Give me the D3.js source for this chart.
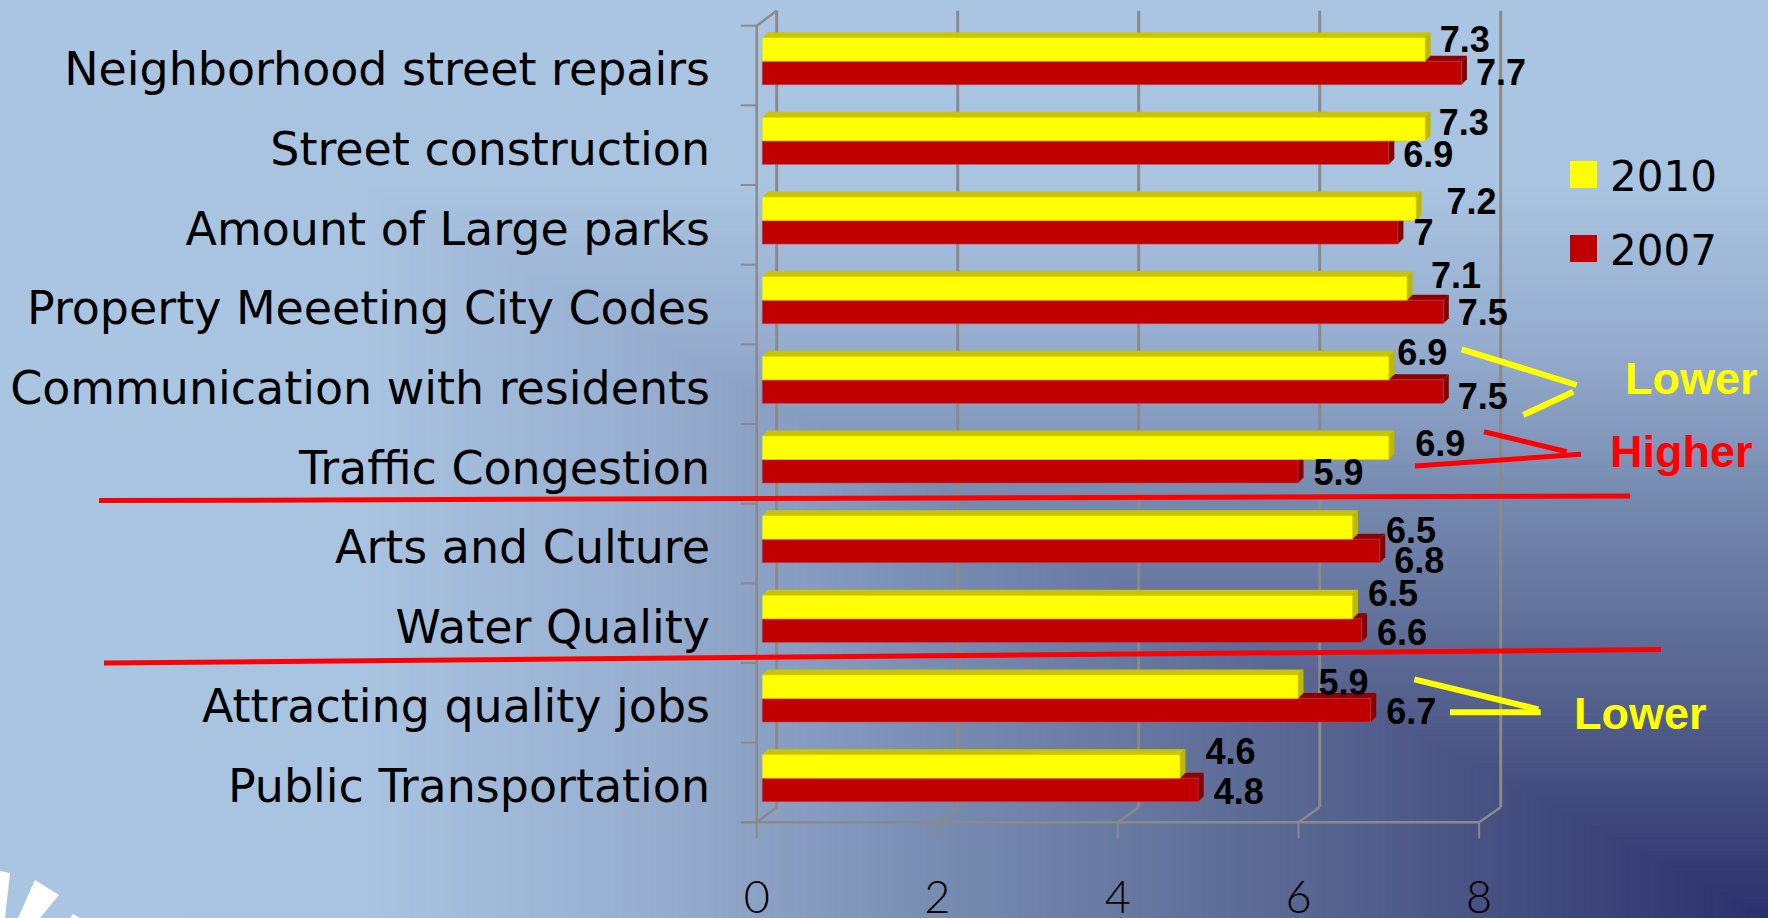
<!DOCTYPE html>
<html>
<head>
<meta charset="utf-8">
<script src="https://cdn.jsdelivr.net/npm/d3@7/dist/d3.min.js"></script>
<style>
  html, body { margin: 0; padding: 0; background: #a9c4e1; overflow: hidden; }
  svg { display: block; }
</style>
</head>
<body>
<svg id="chart" width="1768" height="918"></svg>
<script>
// ---------------- data ----------------
const categories = [
  "Neighborhood street repairs",
  "Street construction",
  "Amount of Large parks",
  "Property Meeeting City Codes",
  "Communication with residents",
  "Traffic Congestion",
  "Arts and Culture",
  "Water Quality",
  "Attracting quality jobs",
  "Public Transportation"
];
const seriesNames = ["2010", "2007"];
const values2010 = [7.3, 7.3, 7.2, 7.1, 6.9, 6.9, 6.5, 6.5, 5.9, 4.6];
const values2007 = [7.7, 6.9, 7.0, 7.5, 7.5, 5.9, 6.8, 6.6, 6.7, 4.8];
const xTicks = [0, 2, 4, 6, 8];
const annotationLower = "Lower";
const annotationHigher = "Higher";

// ---------------- layout (not data) ----------------
const W = 1768, H = 918;
const depth = { dx: 20, dy: -15 };   // 3D wall depth
const barDepth = 5.5;                 // bar 3D depth
// per-label nudges (value label left offset from bar end, vertical offset of label centre from bar centre)
const nudge2010 = [[9,-10.7],[8,-6.6],[25,-8],[18.5,-13.4],[3,-16.4],[21,-4.7],[28,2.2],[10,-14],[15,-4.7],[20,-15.4]];
const nudge2007 = [[9,-0.5],[9,1.4],[10,0.2],[9,0.4],[9,4.4],[10,1.3],[9,9.1],[10,1.4],[10,0.8],[10,1.6]];

const colors = {
  "2010": { front: "#ffff00", top: "#c9c400", side: "#bdb800" },
  "2007": { front: "#c00000", top: "#8e0000", side: "#850000" }
};
const labelFont = "'DejaVu Sans', Verdana, sans-serif";

const svg = d3.select("#chart");

// ---------------- background: rectangular gradient from bottom-right corner ----------------
const bgColor = d3.scaleLinear()
  .domain([0, 0.25, 0.45, 0.63, 0.8, 1])
  .range(["#2b306c", "#56638f", "#7488ae", "#96adcf", "#a9c4e1", "#aac5e2"])
  .interpolate(d3.interpolateRgb);
const bg = svg.append("g");
const steps = d3.range(1, 0, -0.004);
bg.selectAll("rect").data(steps).join("rect")
  .attr("x", t => W * (1 - t))
  .attr("y", t => H * (1 - t))
  .attr("width", t => W * t + 1)
  .attr("height", t => H * t + 1)
  .attr("fill", t => bgColor(t));

// partial white logo at bottom-left
const logo = [
  [[0,871],[10,873],[5,918],[0,918]],
  [[35,880],[59,895],[40,918],[18,918]],
  [[73,914],[80,918],[70,918]]
];
svg.append("g").selectAll("polygon").data(logo).join("polygon")
  .attr("points", d => d.map(p => p.join(",")).join(" "))
  .attr("fill", "#ffffff");

// ---------------- scales ----------------
const xFront = d3.scaleLinear().domain([0, 8]).range([756.7, 1479.1]);
const xBack = d3.scaleLinear().domain([0, 8]).range([756.7 + depth.dx, 1479.1 + depth.dx + 1.6]);
const xBar = d3.scaleLinear().domain([0, 8]).range([762.3, 762.3 + 8 * 90.8]);
const y = d3.scaleBand().domain(categories).range([25.7, 822.3]).padding(0);
const ySeries = d3.scaleBand().domain(seriesNames).range([12, 59]).padding(0);
const floorY = y.range()[1];
const topY = y.range()[0];

// ---------------- axes / walls ----------------
const gridColor = "#8a8a8a";
const axes = svg.append("g").attr("fill", "none").attr("stroke", gridColor);

axes.selectAll("line.grid").data(xTicks).join("line")
  .attr("class", "grid")
  .attr("x1", d => xBack(d)).attr("x2", d => xBack(d))
  .attr("y1", topY + depth.dy).attr("y2", floorY + depth.dy)
  .attr("stroke-width", 3);

axes.selectAll("line.fdiag").data(xTicks).join("line")
  .attr("class", "fdiag")
  .attr("x1", d => xFront(d)).attr("x2", d => xBack(d))
  .attr("y1", floorY).attr("y2", floorY + depth.dy)
  .attr("stroke-width", 2.5);

axes.append("line")
  .attr("x1", xFront(0) - 16).attr("x2", xFront(8))
  .attr("y1", floorY).attr("y2", floorY)
  .attr("stroke-width", 2.5);

axes.selectAll("line.xtick").data(xTicks).join("line")
  .attr("class", "xtick")
  .attr("x1", d => xFront(d)).attr("x2", d => xFront(d))
  .attr("y1", floorY).attr("y2", floorY + 16)
  .attr("stroke-width", 2);

axes.append("line")
  .attr("x1", xFront(0)).attr("x2", xFront(0))
  .attr("y1", topY).attr("y2", floorY)
  .attr("stroke-width", 2.5);
axes.append("line")
  .attr("x1", xFront(0)).attr("x2", xBack(0))
  .attr("y1", topY).attr("y2", topY + depth.dy)
  .attr("stroke-width", 2.5);

const bounds = categories.map(c => y(c)).concat([floorY]);
axes.selectAll("line.ytick").data(bounds).join("line")
  .attr("class", "ytick")
  .attr("x1", xFront(0) - 16).attr("x2", xFront(0))
  .attr("y1", d => d).attr("y2", d => d)
  .attr("stroke-width", 2);

// x tick labels
svg.append("g").selectAll("text").data(xTicks).join("text")
  .attr("x", d => xFront(d))
  .attr("y", 913)
  .attr("text-anchor", "middle")
  .attr("font-family", "Lato, 'Open Sans', sans-serif")
  .attr("font-weight", 300)
  .attr("font-size", 45)
  .attr("fill", "#000")
  .text(d => d);

// category labels (font size fitted to reference label width)
const catText = svg.append("g").selectAll("text").data(categories).join("text")
  .attr("x", 710)
  .attr("y", d => y(d) + 59.5)
  .attr("text-anchor", "end")
  .attr("font-family", labelFont)
  .attr("font-size", 44)
  .attr("fill", "#000")
  .text(d => d);
const firstLen = catText.node().getComputedTextLength();
const catSize = Math.max(38, Math.min(48, 44 * 646 / firstLen));
catText.attr("font-size", catSize);

// ---------------- bars ----------------
const rows = categories.map((c, i) => ({
  cat: c,
  bars: [
    { s: "2007", v: values2007[i], nudge: nudge2007[i] },
    { s: "2010", v: values2010[i], nudge: nudge2010[i] }
  ]
}));

const barG = svg.append("g");
rows.forEach(row => {
  const g = barG.append("g");
  row.bars.forEach(b => {
    const x0 = xBar(0), x1 = xBar(b.v);
    const y0 = y(row.cat) + ySeries(b.s), y1 = y0 + ySeries.bandwidth();
    const d = barDepth;
    const c = colors[b.s];
    g.append("polygon")
      .attr("points", [[x0, y0], [x0 + d, y0 - d], [x1 + d, y0 - d], [x1, y0]].map(p => p.join(",")).join(" "))
      .attr("fill", c.top);
    g.append("polygon")
      .attr("points", [[x1, y0], [x1 + d, y0 - d], [x1 + d, y1 - d], [x1, y1]].map(p => p.join(",")).join(" "))
      .attr("fill", c.side);
    g.append("rect")
      .attr("x", x0).attr("y", y0)
      .attr("width", x1 - x0).attr("height", y1 - y0)
      .attr("fill", c.front)
      .attr("stroke", b.s === "2007" ? "#c84050" : "#e8d000")
      .attr("stroke-width", 1)
      .attr("stroke-opacity", 0.6);
  });
});

// value labels
const labelG = svg.append("g")
  .attr("font-family", "'Liberation Sans', Arial, sans-serif")
  .attr("font-weight", "bold")
  .attr("font-size", 36)
  .attr("fill", "#000");
rows.forEach(row => {
  row.bars.forEach(b => {
    const yc = y(row.cat) + ySeries(b.s) + ySeries.bandwidth() / 2;
    labelG.append("text")
      .attr("x", xBar(b.v) + barDepth + b.nudge[0])
      .attr("y", yc + b.nudge[1] + 12.9)
      .text(String(b.v));
  });
});

// ---------------- legend ----------------
const legend = svg.append("g");
seriesNames.forEach((s, i) => {
  legend.append("rect")
    .attr("x", 1570).attr("y", 161 + i * 74)
    .attr("width", 27).attr("height", 27)
    .attr("fill", colors[s].front);
  legend.append("text")
    .attr("x", 1610).attr("y", 190.7 + i * 74.3)
    .attr("font-family", labelFont)
    .attr("font-size", 42)
    .attr("fill", "#000")
    .text(s);
});

// ---------------- annotations ----------------
const ann = svg.append("g").attr("stroke-linecap", "butt");
const yellowLines = [
  [[1461.7, 349.3], [1576.7, 385]],
  [[1573.3, 391.7], [1523.3, 415]],
  [[1414.3, 679.3], [1538.3, 709.3]],
  [[1450, 712.3], [1540.7, 712.3]]
];
const redLines = [
  [[1484, 431.7], [1566.7, 451.7]],
  [[1415, 466], [1581, 454.3]],
  [[99, 500.6], [1630, 496]],
  [[104, 663], [1661, 649.5]]
];
ann.selectAll("line.y").data(yellowLines).join("line")
  .attr("class", "y")
  .attr("x1", d => d[0][0]).attr("y1", d => d[0][1])
  .attr("x2", d => d[1][0]).attr("y2", d => d[1][1])
  .attr("stroke", "#ffff00").attr("stroke-width", 6);
ann.selectAll("line.r").data(redLines).join("line")
  .attr("class", "r")
  .attr("x1", d => d[0][0]).attr("y1", d => d[0][1])
  .attr("x2", d => d[1][0]).attr("y2", d => d[1][1])
  .attr("stroke", "#ff0000").attr("stroke-width", 5);

const annText = [
  { t: annotationLower, x: 1625, y: 394, c: "#ffff00" },
  { t: annotationHigher, x: 1610, y: 467.3, c: "#ff0000" },
  { t: annotationLower, x: 1574, y: 729.3, c: "#ffff00" }
];
svg.append("g").selectAll("text").data(annText).join("text")
  .attr("x", d => d.x).attr("y", d => d.y)
  .attr("font-family", "'Liberation Sans', Arial, sans-serif")
  .attr("font-weight", "bold")
  .attr("font-size", 45)
  .attr("fill", d => d.c)
  .text(d => d.t);
</script>
</body>
</html>
